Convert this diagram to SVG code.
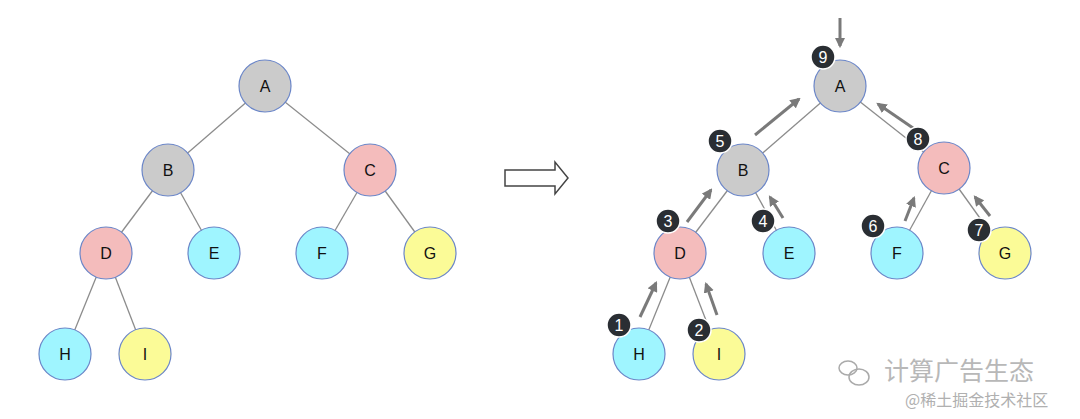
<svg xmlns="http://www.w3.org/2000/svg" width="1080" height="419" viewBox="0 0 1080 419">
<defs>
<style>
.n{stroke:#6b86c8;stroke-width:1.2}
.g{fill:#cbcbcb}.p{fill:#f4bcbc}.c{fill:#9ff5ff}.y{fill:#fbfb97}
.t{font-family:"Liberation Sans",Arial,sans-serif;font-size:16px;text-anchor:middle;fill:#111}
.e{stroke:#8c8c8c;stroke-width:1.3}
.a{stroke:#7a7a7a;stroke-width:3;fill:none;marker-end:url(#ah)}
.b{fill:#2a2e33;stroke:#fff;stroke-width:1.5}
.bt{font-family:"Liberation Sans",Arial,sans-serif;font-size:16px;text-anchor:middle;fill:#fff}
</style>
<marker id="ah" viewBox="0 0 10 10" refX="8" refY="5" markerWidth="3.5" markerHeight="3.5" orient="auto"><path d="M0,0L10,5L0,10z" fill="#7a7a7a"/></marker>
</defs>
<rect width="1080" height="419" fill="#fff"/>
<g id="connectors">
<g class="e">
<line x1="265" y1="86" x2="168" y2="170"/><line x1="265" y1="86" x2="370" y2="170"/>
<line x1="168" y1="170" x2="106" y2="253"/><line x1="168" y1="170" x2="214" y2="253"/>
<line x1="370" y1="170" x2="322" y2="253"/><line x1="370" y1="170" x2="430" y2="253"/>
<line x1="106" y1="253" x2="65" y2="354"/><line x1="106" y1="253" x2="145" y2="354"/>
<line x1="840" y1="86" x2="743" y2="170"/><line x1="840" y1="86" x2="944" y2="168"/>
<line x1="743" y1="170" x2="680" y2="253"/><line x1="743" y1="170" x2="789" y2="253"/>
<line x1="944" y1="168" x2="897" y2="253"/><line x1="944" y1="168" x2="1005" y2="253"/>
<line x1="680" y1="253" x2="639" y2="354"/><line x1="680" y1="253" x2="719" y2="354"/>
</g>
<path d="M505,170H555V162L568,178L555,194V186H505Z" fill="#fff" stroke="#444" stroke-width="1.5"/>
<line class="a" x1="840" y1="18" x2="840" y2="46"/>
<line class="a" x1="755" y1="135" x2="799" y2="99"/>
<line class="a" x1="913" y1="128" x2="878" y2="104"/>
<line class="a" x1="687" y1="222" x2="711" y2="190"/>
<line class="a" x1="783" y1="218" x2="770" y2="197"/>
<line class="a" x1="905" y1="221" x2="914" y2="198"/>
<line class="a" x1="990" y1="216" x2="975" y2="197"/>
<line class="a" x1="640" y1="317" x2="656" y2="283"/>
<line class="a" x1="717" y1="315" x2="706" y2="284"/>
</g>
<g id="L-A"><circle class="n g" cx="265" cy="86" r="26"/><text class="t" x="265" y="92">A</text></g>
<g id="L-B"><circle class="n g" cx="168" cy="170" r="26"/><text class="t" x="168" y="176">B</text></g>
<g id="L-C"><circle class="n p" cx="370" cy="170" r="26"/><text class="t" x="370" y="176">C</text></g>
<g id="L-D"><circle class="n p" cx="106" cy="253" r="26"/><text class="t" x="106" y="259">D</text></g>
<g id="L-E"><circle class="n c" cx="214" cy="253" r="26"/><text class="t" x="214" y="259">E</text></g>
<g id="L-F"><circle class="n c" cx="322" cy="253" r="26"/><text class="t" x="322" y="259">F</text></g>
<g id="L-G"><circle class="n y" cx="430" cy="253" r="26"/><text class="t" x="430" y="259">G</text></g>
<g id="L-H"><circle class="n c" cx="65" cy="354" r="26"/><text class="t" x="65" y="360">H</text></g>
<g id="L-I"><circle class="n y" cx="145" cy="354" r="26"/><text class="t" x="145" y="360">I</text></g>
<g id="R-A"><circle class="n g" cx="840" cy="86" r="26"/><text class="t" x="840" y="92">A</text></g>
<g id="R-B"><circle class="n g" cx="743" cy="170" r="26"/><text class="t" x="743" y="176">B</text></g>
<g id="R-C"><circle class="n p" cx="944" cy="168" r="26"/><text class="t" x="944" y="174">C</text></g>
<g id="R-D"><circle class="n p" cx="680" cy="253" r="26"/><text class="t" x="680" y="259">D</text></g>
<g id="R-E"><circle class="n c" cx="789" cy="253" r="26"/><text class="t" x="789" y="259">E</text></g>
<g id="R-F"><circle class="n c" cx="897" cy="253" r="26"/><text class="t" x="897" y="259">F</text></g>
<g id="R-G"><circle class="n y" cx="1005" cy="253" r="26"/><text class="t" x="1005" y="259">G</text></g>
<g id="R-H"><circle class="n c" cx="639" cy="354" r="26"/><text class="t" x="639" y="360">H</text></g>
<g id="R-I"><circle class="n y" cx="719" cy="354" r="26"/><text class="t" x="719" y="360">I</text></g>
<g id="badges">
<circle class="b" cx="823" cy="57" r="12"/><text class="bt" x="823" y="63">9</text>
<circle class="b" cx="720" cy="141" r="12"/><text class="bt" x="720" y="147">5</text>
<circle class="b" cx="918" cy="139" r="12"/><text class="bt" x="918" y="145">8</text>
<circle class="b" cx="668" cy="221" r="12"/><text class="bt" x="668" y="227">3</text>
<circle class="b" cx="763" cy="221" r="12"/><text class="bt" x="763" y="227">4</text>
<circle class="b" cx="873" cy="226" r="12"/><text class="bt" x="873" y="232">6</text>
<circle class="b" cx="979" cy="230" r="12"/><text class="bt" x="979" y="236">7</text>
<circle class="b" cx="619" cy="325" r="12"/><text class="bt" x="619" y="331">1</text>
<circle class="b" cx="699" cy="330" r="12"/><text class="bt" x="699" y="336">2</text>
</g>
<g id="watermark" fill="none" stroke="#aaa" stroke-width="1.5">
<ellipse cx="848" cy="368" rx="9" ry="7"/><ellipse cx="859" cy="377" rx="10" ry="8"/>
</g>
<text x="884" y="380" font-family="'Noto Sans CJK SC',sans-serif" font-size="25" fill="#b8b8b8">计算广告生态</text>
<text x="905" y="406" font-family="'Noto Sans CJK SC',sans-serif" font-size="16" fill="#b0b0b0">@稀土掘金技术社区</text>
</svg>
